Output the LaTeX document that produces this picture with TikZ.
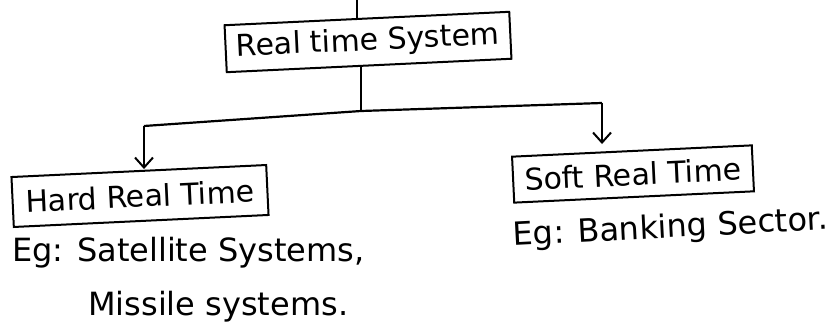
\documentclass[tikz,border=0pt]{standalone}
\usepackage{fontspec}
\setmainfont{DejaVu Sans}
\usetikzlibrary{arrows.meta}
\begin{document}
\begin{tikzpicture}[x=1pt,y=-1pt,
  box/.style={draw, line width=2pt, rectangle, inner sep=0pt, font=\fontsize{30}{35}\selectfont, rotate=2.7, anchor=center},
  lbl/.style={font=\fontsize{32}{38}\selectfont, inner sep=0pt, anchor=west},
  conn/.style={line width=2.2pt},
  arr/.style={conn, -{Straight Barb[length=10pt,width=18pt,line width=2pt]}}]
\useasboundingbox (0,0) rectangle (834,334);
\node[box, minimum width=285pt, minimum height=47pt] (rts) at (368,42) {Real time System};
\node[box, minimum width=255pt, minimum height=50pt] (hard) at (140,196) {Hard Real Time};
\node[box, minimum width=240pt, minimum height=46pt] (soft) at (633,174) {Soft Real Time};
\node[lbl] (eg1) at (12,253) {Eg: Satellite Systems,};
\node[lbl] (eg2) at (88,307) {Missile systems.};
\node[lbl, rotate=3] (eg3) at (513,237) {Eg: Banking Sector.};
\coordinate (in) at (357,0);
\coordinate (j) at (361,111);
\coordinate (lc) at (144,126);
\coordinate (rc) at (602,103);
\draw[conn] (in) -- (in |- rts.north);
\draw[conn] (j |- rts.south) -- (j);
\draw[conn] (lc) -- (j) -- (rc);
\draw[arr, shorten >=1pt] (lc) -- (lc |- hard.north);
\draw[arr, shorten >=6pt] (rc) -- (rc |- soft.north);
\end{tikzpicture}
\end{document}
